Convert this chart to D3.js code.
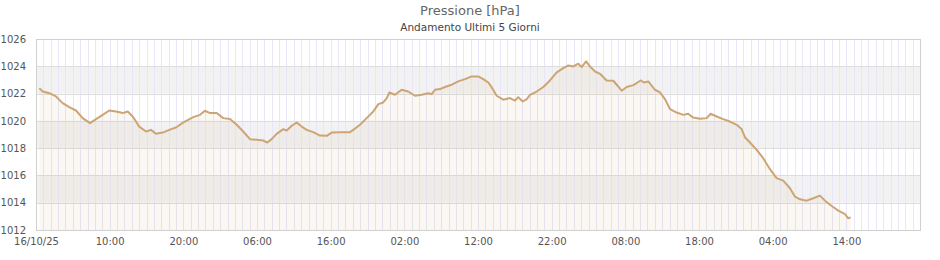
<!DOCTYPE html>
<html>
<head>
<meta charset="utf-8">
<script src="https://cdn.jsdelivr.net/npm/d3@7"></script>
<style>
  body { margin: 0; background: #fff; }
  svg { display: block; font-family: "DejaVu Sans", sans-serif; }
</style>
</head>
<body>
<svg id="chart" width="940" height="260"></svg>
<script>
// pressure readings (hPa)
const times = [
  "2025-10-16 00:27", "2025-10-16 00:55", "2025-10-16 01:49", "2025-10-16 02:43", "2025-10-16 03:37",
  "2025-10-16 04:31", "2025-10-16 05:26", "2025-10-16 06:20", "2025-10-16 07:20", "2025-10-16 08:09",
  "2025-10-16 09:03", "2025-10-16 09:57", "2025-10-16 10:52", "2025-10-16 11:46", "2025-10-16 12:27",
  "2025-10-16 13:08", "2025-10-16 14:01", "2025-10-16 14:56", "2025-10-16 15:37", "2025-10-16 16:17",
  "2025-10-16 17:12", "2025-10-16 18:05", "2025-10-16 19:00", "2025-10-16 19:55", "2025-10-16 20:27",
  "2025-10-16 21:21", "2025-10-16 22:16", "2025-10-16 22:56", "2025-10-16 23:37", "2025-10-17 00:32",
  "2025-10-17 01:25", "2025-10-17 02:20", "2025-10-17 03:15", "2025-10-17 04:08", "2025-10-17 05:03",
  "2025-10-17 05:57", "2025-10-17 06:51", "2025-10-17 07:24", "2025-10-17 07:59", "2025-10-17 08:40",
  "2025-10-17 09:34", "2025-10-17 10:02", "2025-10-17 10:43", "2025-10-17 11:23", "2025-10-17 12:04",
  "2025-10-17 12:45", "2025-10-17 13:38", "2025-10-17 14:33", "2025-10-17 15:28", "2025-10-17 16:08",
  "2025-10-17 17:16", "2025-10-17 18:37", "2025-10-17 19:04", "2025-10-17 19:59", "2025-10-17 20:53",
  "2025-10-17 21:47", "2025-10-17 22:28", "2025-10-17 23:08", "2025-10-17 23:37", "2025-10-17 23:58",
  "2025-10-18 00:44", "2025-10-18 01:38", "2025-10-18 02:32", "2025-10-18 03:27", "2025-10-18 04:21",
  "2025-10-18 05:15", "2025-10-18 05:43", "2025-10-18 06:10", "2025-10-18 06:50", "2025-10-18 07:31",
  "2025-10-18 08:26", "2025-10-18 09:19", "2025-10-18 10:14", "2025-10-18 11:08", "2025-10-18 12:02",
  "2025-10-18 12:43", "2025-10-18 13:24", "2025-10-18 13:45", "2025-10-18 14:32", "2025-10-18 15:26",
  "2025-10-18 16:20", "2025-10-18 17:01", "2025-10-18 17:28", "2025-10-18 18:04", "2025-10-18 18:37",
  "2025-10-18 19:04", "2025-10-18 19:58", "2025-10-18 20:52", "2025-10-18 21:46", "2025-10-18 22:41",
  "2025-10-18 23:35", "2025-10-19 00:16", "2025-10-19 00:56", "2025-10-19 01:37", "2025-10-19 02:04",
  "2025-10-19 02:40", "2025-10-19 03:12", "2025-10-19 03:53", "2025-10-19 04:34", "2025-10-19 05:28",
  "2025-10-19 06:22", "2025-10-19 07:02", "2025-10-19 07:30", "2025-10-19 08:11", "2025-10-19 09:05",
  "2025-10-19 09:46", "2025-10-19 10:05", "2025-10-19 10:32", "2025-10-19 11:07", "2025-10-19 12:01",
  "2025-10-19 12:42", "2025-10-19 13:23", "2025-10-19 14:04", "2025-10-19 14:58", "2025-10-19 15:52",
  "2025-10-19 16:32", "2025-10-19 17:13", "2025-10-19 18:08", "2025-10-19 19:02", "2025-10-19 19:35",
  "2025-10-19 20:24", "2025-10-19 21:17", "2025-10-19 22:12", "2025-10-19 23:07", "2025-10-19 23:47",
  "2025-10-20 00:14", "2025-10-20 00:55", "2025-10-20 01:50", "2025-10-20 02:43", "2025-10-20 03:38",
  "2025-10-20 04:32", "2025-10-20 05:26", "2025-10-20 06:21", "2025-10-20 07:02", "2025-10-20 07:43",
  "2025-10-20 08:37", "2025-10-20 09:31", "2025-10-20 10:25", "2025-10-20 11:06", "2025-10-20 12:01",
  "2025-10-20 12:55", "2025-10-20 13:49", "2025-10-20 14:16", "2025-10-20 14:35"
];

const pressure = [
  1022.40, 1022.15, 1022.03, 1021.79, 1021.30,
  1021.00, 1020.76, 1020.20, 1019.83, 1020.13,
  1020.44, 1020.76, 1020.69, 1020.57, 1020.69,
  1020.32, 1019.58, 1019.22, 1019.34, 1019.05,
  1019.14, 1019.34, 1019.51, 1019.85, 1020.02,
  1020.27, 1020.44, 1020.74, 1020.57, 1020.57,
  1020.20, 1020.13, 1019.71, 1019.22, 1018.66,
  1018.61, 1018.56, 1018.41, 1018.66, 1019.05,
  1019.39, 1019.29, 1019.64, 1019.88, 1019.58,
  1019.34, 1019.17, 1018.92, 1018.90, 1019.14,
  1019.17, 1019.17, 1019.34, 1019.71, 1020.20,
  1020.69, 1021.23, 1021.35, 1021.67, 1022.08,
  1021.91, 1022.28, 1022.15, 1021.84, 1021.91,
  1022.03, 1021.96, 1022.28, 1022.33, 1022.48,
  1022.65, 1022.89, 1023.06, 1023.26, 1023.26,
  1023.06, 1022.81, 1022.55, 1021.84, 1021.55,
  1021.67, 1021.49, 1021.74, 1021.42, 1021.60,
  1021.91, 1022.15, 1022.48, 1022.96, 1023.55,
  1023.87, 1024.06, 1023.99, 1024.19, 1023.94,
  1024.36, 1023.99, 1023.62, 1023.45, 1022.96,
  1022.94, 1022.52, 1022.21, 1022.48, 1022.62,
  1022.85, 1022.96, 1022.81, 1022.89, 1022.28,
  1022.08, 1021.60, 1020.86, 1020.61, 1020.44,
  1020.52, 1020.24, 1020.15, 1020.20, 1020.52,
  1020.32, 1020.13, 1019.95, 1019.71, 1019.40,
  1018.80, 1018.41, 1017.87, 1017.26, 1016.46,
  1015.80, 1015.62, 1015.06, 1014.44, 1014.25,
  1014.15, 1014.33, 1014.52, 1014.15, 1013.76,
  1013.42, 1013.17, 1012.86, 1012.93
];

const yTicks = [1012, 1014, 1016, 1018, 1020, 1022, 1024, 1026];
const xTickLabels = ["16/10/25", "10:00", "20:00", "06:00", "16:00", "02:00",
                     "12:00", "22:00", "08:00", "18:00", "04:00", "14:00"];

const parse = d3.timeParse("%Y-%m-%d %H:%M");
const data = times.map((t, i) => ({ t: parse(t), v: pressure[i] }));

const start = new Date(2025, 9, 16, 0, 0);
const end = d3.timeDay.offset(start, 5);

const svg = d3.select("#chart");
const plot = { left: 36, right: 920, top: 39, bottom: 230 };

const x = d3.scaleTime().domain([start, end]).range([plot.left, plot.right]);
const y = d3.scaleLinear().domain([1012, 1026]).range([plot.bottom, plot.top]);

// alternating horizontal bands
const bands = d3.pairs(yTicks).filter((d, i) => i % 2 === 1);
svg.append("g")
  .selectAll("rect")
  .data(bands)
  .join("rect")
    .attr("x", plot.left)
    .attr("width", plot.right - plot.left)
    .attr("y", d => y(d[1]))
    .attr("height", d => y(d[0]) - y(d[1]))
    .attr("fill", "#f2f2f2");

// hourly vertical grid
const hours = d3.timeHour.range(d3.timeHour.offset(start, 1), end);
svg.append("g")
  .selectAll("line")
  .data(hours)
  .join("line")
    .attr("x1", d => Math.round(x(d)) + 0.5)
    .attr("x2", d => Math.round(x(d)) + 0.5)
    .attr("y1", plot.top)
    .attr("y2", plot.bottom)
    .attr("stroke", "#e8e6f8");

// horizontal grid
svg.append("g")
  .selectAll("line")
  .data(yTicks)
  .join("line")
    .attr("x1", plot.left)
    .attr("x2", plot.right)
    .attr("y1", d => Math.round(y(d)) + 0.5)
    .attr("y2", d => Math.round(y(d)) + 0.5)
    .attr("stroke", "#dddddd");

// area under the curve
svg.append("path")
  .datum(data)
  .attr("fill", "rgba(205,160,110,0.08)")
  .attr("d", d3.area()
    .x(d => x(d.t))
    .y0(plot.bottom)
    .y1(d => y(d.v)));

svg.append("path")
  .datum(data)
  .attr("fill", "none")
  .attr("stroke", "#cda574")
  .attr("stroke-width", 2)
  .attr("stroke-linejoin", "round")
  .attr("d", d3.line()
    .x(d => x(d.t))
    .y(d => y(d.v)));

// frame
svg.append("rect")
  .attr("x", plot.left + 0.5)
  .attr("y", Math.round(plot.top) + 0.5)
  .attr("width", plot.right - plot.left)
  .attr("height", plot.bottom - Math.round(plot.top))
  .attr("fill", "none")
  .attr("stroke", "#d0d0d0");

// axes
const yAxis = svg.append("g")
  .attr("transform", "translate(" + plot.left + ",0)")
  .call(d3.axisLeft(y).tickValues(yTicks).tickSize(0).tickPadding(10).tickFormat(d3.format("d")));
yAxis.select(".domain").remove();

const xTicks = xTickLabels.map((l, i) => d3.timeHour.offset(start, i * 10));
const xAxis = svg.append("g")
  .attr("transform", "translate(0," + plot.bottom + ")")
  .call(d3.axisBottom(x).tickValues(xTicks).tickSize(0).tickPadding(8)
    .tickFormat((d, i) => xTickLabels[i]));
xAxis.select(".domain").remove();

svg.selectAll(".tick text")
  .attr("fill", "#555")
  .style("font-family", "DejaVu Sans, sans-serif")
  .style("font-size", "10px");

// titles
svg.append("text")
  .attr("x", 470)
  .attr("y", 15)
  .attr("text-anchor", "middle")
  .attr("fill", "#666")
  .style("font-size", "13px")
  .text("Pressione [hPa]");

svg.append("text")
  .attr("x", 470)
  .attr("y", 31)
  .attr("text-anchor", "middle")
  .attr("fill", "#444")
  .style("font-size", "10.5px")
  .text("Andamento Ultimi 5 Giorni");
</script>
</body>
</html>
